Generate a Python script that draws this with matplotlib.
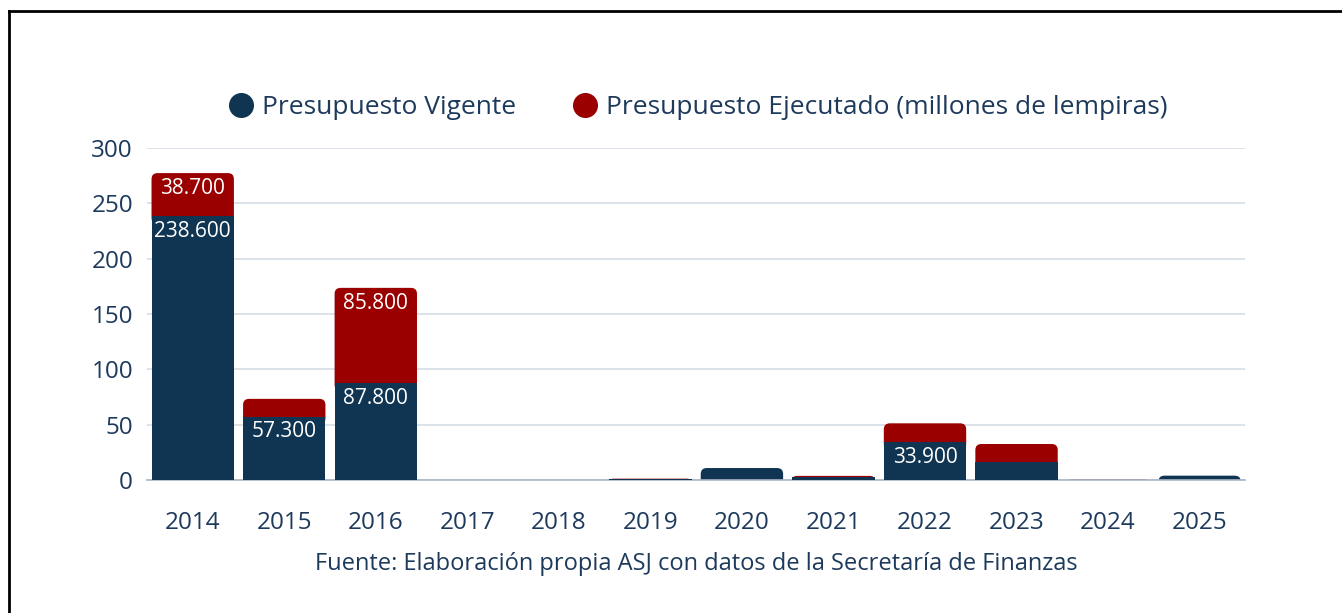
import matplotlib.pyplot as plt
from matplotlib.patches import FancyBboxPatch
from matplotlib.lines import Line2D

# datos
years = ['2014', '2015', '2016', '2017', '2018', '2019', '2020', '2021', '2022', '2023', '2024', '2025']
vigente = [238.6, 57.3, 87.8, 0.0, 0.0, 0.8, 10.8, 2.7, 33.9, 16.5, 0.0, 3.9]
ejecutado = [38.7, 16.0, 85.8, 0.0, 0.0, 0.4, 0.0, 1.0, 17.3, 16.0, 0.5, 0.0]
yticks = [0, 50, 100, 150, 200, 250, 300]

BLUE = '#0f3552'
RED = '#9b0000'
TEXT = '#1d3a5c'
GRID = '#d6dde5'

plt.rcParams['font.family'] = ['Open Sans', 'DejaVu Sans']

fig = plt.figure(figsize=(13.42, 6.13), dpi=100)
ax = fig.add_axes([0.1095, 0.217, 0.8185, 0.5416])

x = list(range(len(years)))
w = 0.9
b1 = ax.bar(x, vigente, width=w, color=BLUE, zorder=2)
b2 = ax.bar(x, ejecutado, bottom=vigente, width=w, color=RED, zorder=2)

# esquinas redondeadas arriba: se cambia el segmento superior por una caja redondeada
px_x = 91.5       # pixeles por unidad x
px_y = 332 / 300  # pixeles por unidad y
r = 6 / px_x
aspect = px_x / px_y
for i in x:
    top = b2[i] if ejecutado[i] > 0 else b1[i]
    if top.get_height() <= 0:
        continue
    x0, y0 = top.get_xy()
    h = top.get_height()
    if top is b1[i]:
        y0 = y0 - 10 / px_y
        h = h + 10 / px_y
    else:
        y0 = y0 - 8 / px_y
        h = h + 8 / px_y
    rr = min(r, (h * px_y / 2) / px_x)
    p = FancyBboxPatch((x0, y0), top.get_width(), h,
                       boxstyle=f'round,pad=0,rounding_size={rr}',
                       mutation_aspect=aspect, facecolor=top.get_facecolor(),
                       edgecolor='none', zorder=2)
    top.set_visible(False)
    ax.add_patch(p)
for i in x:
    if ejecutado[i] > 0 and vigente[i] > 0:
        b1[i].set_zorder(3)

def fmt(v):
    return f'{v * 1000:,.0f}'.replace(',', '.')

for i in x:
    if vigente[i] >= 20:
        ax.annotate(fmt(vigente[i]), (i, vigente[i]), xytext=(0, -11), textcoords='offset points',
                    ha='center', va='center', color='white', fontsize=15, zorder=4)
    if ejecutado[i] >= 20:
        ax.annotate(fmt(ejecutado[i]), (i, vigente[i] + ejecutado[i]), xytext=(0, -11),
                    textcoords='offset points', ha='center', va='center', color='white',
                    fontsize=15, zorder=4)

ax.set_xlim(-0.5, 11.5)
ax.set_ylim(0, 300)
ax.set_yticks(yticks)
ax.set_xticks(x)
ax.set_xticklabels(years)
ax.tick_params(axis='both', length=0, labelsize=17.5, colors=TEXT)
ax.tick_params(axis='y', pad=10)
ax.tick_params(axis='x', pad=22)
ax.grid(axis='y', color=GRID, linewidth=1.2, zorder=0)
for s in ['top', 'right', 'left']:
    ax.spines[s].set_visible(False)
ax.spines['bottom'].set_color('#a9b6c4')
ax.spines['bottom'].set_linewidth(1.2)
ax.set_axisbelow(True)

handles = [Line2D([], [], marker='o', linestyle='none', markersize=17, color=BLUE),
           Line2D([], [], marker='o', linestyle='none', markersize=17, color=RED)]
fig.legend(handles, ['Presupuesto Vigente', 'Presupuesto Ejecutado (millones de lempiras)'],
           loc='center', bbox_to_anchor=(0.515, 0.824), ncol=2, frameon=False,
           fontsize=19, labelcolor=TEXT, handletextpad=-0.2, columnspacing=1.6)

fig.text(0.519, 0.080, 'Fuente: Elaboración propia ASJ con datos de la Secretaría de Finanzas',
         ha='center', va='center', fontsize=17, color=TEXT)

# marco negro
fig.add_artist(Line2D([9 / 1342, 1], [1 - 11 / 613, 1 - 11 / 613], transform=fig.transFigure,
                      color='black', linewidth=2))
fig.add_artist(Line2D([9 / 1342, 9 / 1342], [0, 1 - 11 / 613], transform=fig.transFigure,
                      color='black', linewidth=2))

fig.savefig('out.png', dpi=100)
